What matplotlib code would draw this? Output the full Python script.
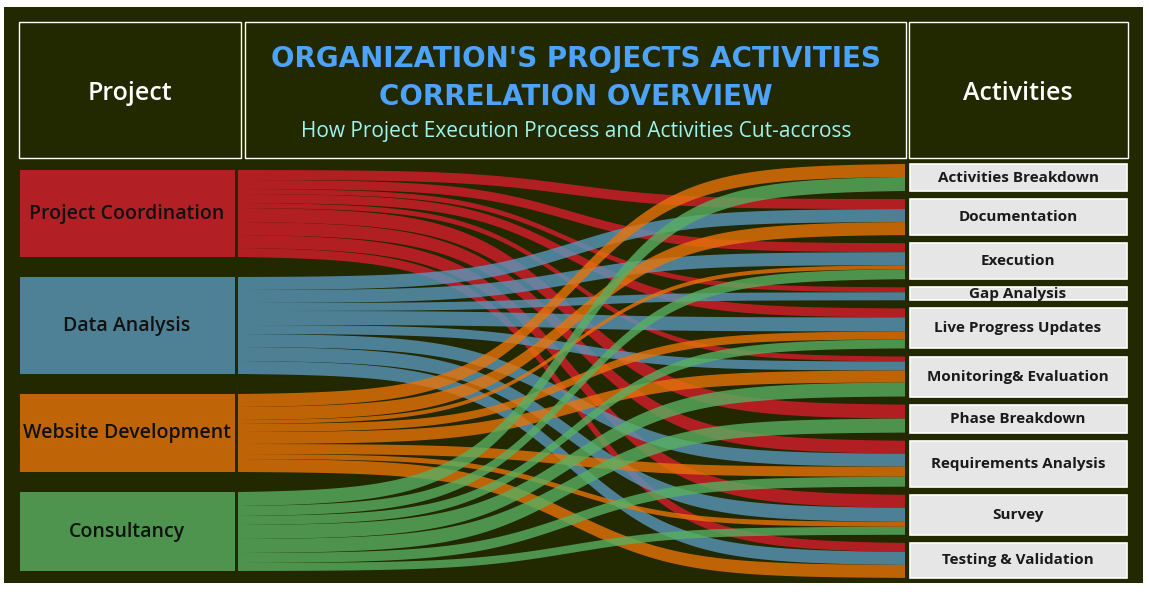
import numpy as np
import matplotlib.pyplot as plt
from matplotlib.patches import Rectangle

# =========================
# 1. Data (link widths)
# =========================
projects = ["Project Coordination", "Data Analysis", "Website Development", "Consultancy"]
activities = ["Activities Breakdown", "Documentation", "Execution", "Gap Analysis",
              "Live Progress Updates", "Monitoring& Evaluation", "Phase Breakdown",
              "Requirements Analysis", "Survey", "Testing & Validation"]

coordination = [0, 10, 9, 5, 9, 5, 14, 13, 13, 9]
data_analysis = [0, 13, 13, 8, 14, 9, 0, 13, 14, 13]
website_dev = [13, 13, 4, 0, 8, 12, 0, 10, 5, 13]
consultancy = [14, 0, 10, 0, 9, 14, 14, 10, 8, 0]

node_colors = ["#B21F24", "#4F8196", "#BF6508", "#4E944E"]
link_colors = ["#D61D2D", "#5A97BB", "#E6740A", "#59AF61"]
bg = "#222800"

flows = np.array([coordination, data_analysis, website_dev, consultancy], dtype=float)

# =========================
# 2. Layout
# =========================
W, H = 1150, 613
fig = plt.figure(figsize=(W / 100, H / 100), dpi=100, facecolor="white")
ax = fig.add_axes([0, 0, 1, 1])
ax.set_xlim(0, W)
ax.set_ylim(H, 0)
ax.axis("off")

ax.add_patch(Rectangle((4, 7), 1139, 576, facecolor=bg, edgecolor="none", zorder=0))

# header boxes
for x0, x1 in [(19, 241), (245, 906), (909, 1128)]:
    ax.add_patch(Rectangle((x0, 22), x1 - x0, 136, facecolor="none",
                           edgecolor="white", lw=1, zorder=1))

ax.text(130, 94, "Project", color="white", fontsize=18, weight="semibold",
        family="Open Sans", ha="center", va="center")
ax.text(1018, 94, "Activities", color="white", fontsize=18, weight="semibold",
        family="Open Sans", ha="center", va="center")
ax.text(576, 59, "ORGANIZATION'S PROJECTS ACTIVITIES", color="#4DA3FA",
        fontsize=20, weight="bold", family="DejaVu Sans", ha="center", va="center")
ax.text(576, 97, "CORRELATION OVERVIEW", color="#4DA3FA",
        fontsize=20, weight="bold", family="DejaVu Sans", ha="center", va="center")
ax.text(576, 131, "How Project Execution Process and Activities Cut-accross",
        color="#9EF3F0", fontsize=15, weight="medium", family="Open Sans",
        ha="center", va="center")

# node positions
left_top, left_gap = 170, 20
right_top, right_gap = 164, 8.1
src_tot = flows.sum(axis=1)
tgt_tot = flows.sum(axis=0)

src_y = left_top + np.concatenate([[0], np.cumsum(src_tot + left_gap)[:-1]])
tgt_y = right_top + np.concatenate([[0], np.cumsum(tgt_tot + right_gap)[:-1]])

# =========================
# 3. Links (sigmoid ribbons)
# =========================
x0, x1 = 238, 905
t = np.linspace(-6, 6, 300)
s = 1 / (1 + np.exp(-t))
s = (s - s[0]) / (s[-1] - s[0])
xs = x0 + (x1 - x0) * (t + 6) / 12

# right side stacked by source order
right_pos = np.zeros_like(flows)
for j in range(len(activities)):
    y = tgt_y[j]
    for i in range(len(projects)):
        right_pos[i, j] = y
        y += flows[i, j]

for i in range(len(projects)):
    y = src_y[i]
    for j in range(len(activities)):
        w = flows[i, j]
        if w == 0:
            continue
        top = y + (right_pos[i, j] - y) * s
        ax.fill_between(xs, top, top + w, facecolor=link_colors[i], alpha=0.8,
                        lw=0, zorder=2 + i)
        y += w

# =========================
# 4. Nodes
# =========================
for i, name in enumerate(projects):
    ax.add_patch(Rectangle((20, src_y[i]), 215, src_tot[i], facecolor=node_colors[i],
                           edgecolor="none", zorder=8))
    ax.text(127, src_y[i] + src_tot[i] / 2, name, fontsize=14, weight="semibold",
            family="Open Sans", color="#111111", ha="center", va="center", zorder=9)

for j, name in enumerate(activities):
    ax.add_patch(Rectangle((910, tgt_y[j]), 217, tgt_tot[j], facecolor="#E6E6E6",
                           edgecolor="white", lw=1.2, zorder=8))
    ax.text(1018, tgt_y[j] + tgt_tot[j] / 2, name, fontsize=11, weight="bold",
            family="Open Sans", color="#1A1A1A", ha="center", va="center", zorder=9)

plt.savefig("out.png", dpi=100, facecolor="white")
plt.close()
